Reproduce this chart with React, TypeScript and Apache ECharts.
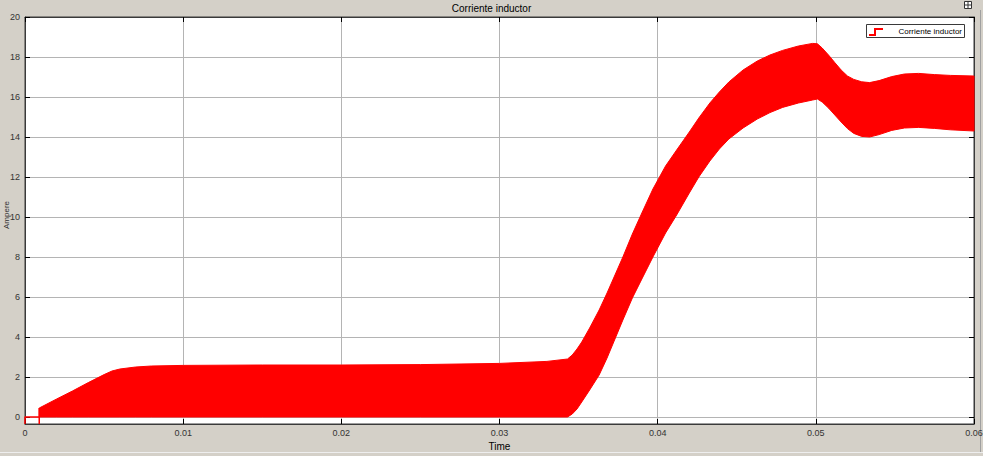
import React, { useEffect, useRef } from "react";
import * as echarts from "echarts";

// Time axis (s) and envelope of the inductor current ripple (A)
const time = [
  0.0009, 0.002, 0.003, 0.004, 0.005, 0.0055, 0.006, 0.007, 0.008, 0.01, 0.015, 0.02, 0.025, 0.03,
  0.033, 0.0343, 0.0346, 0.0349, 0.0352, 0.0357, 0.0363, 0.0368, 0.0373, 0.0378, 0.0384, 0.039,
  0.0397, 0.0405, 0.0412, 0.042, 0.0426, 0.0433, 0.0439, 0.0445, 0.0454, 0.0463, 0.0471, 0.0479,
  0.0489, 0.0498, 0.0501, 0.0504, 0.0508, 0.0512, 0.0516, 0.052, 0.0524, 0.0529, 0.0534, 0.054,
  0.0548, 0.0556, 0.0565, 0.0575, 0.0585, 0.06,
];
const upper = [
  0.45, 0.9, 1.3, 1.72, 2.12, 2.3, 2.4, 2.5, 2.55, 2.58, 2.6, 2.6, 2.62, 2.68,
  2.78, 2.9, 3.1, 3.4, 3.75, 4.45, 5.35, 6.2, 7.1, 8.0, 9.15, 10.2,
  11.4, 12.55, 13.35, 14.25, 14.95, 15.7, 16.25, 16.75, 17.35, 17.8, 18.1, 18.33,
  18.55, 18.68, 18.66, 18.45, 18.1, 17.72, 17.35, 17.05, 16.88, 16.76, 16.72, 16.82,
  17.02, 17.15, 17.18, 17.12, 17.08, 17.05,
];
const lower = [
  0, 0, 0, 0, 0, 0, 0, 0, 0, 0, 0, 0, 0, 0,
  0, 0, 0.15, 0.4, 0.75, 1.35, 2.1, 2.95, 3.9, 4.85, 5.95, 6.9,
  8.0, 9.2, 10.1, 11.2, 12.0, 12.8, 13.4, 13.9, 14.45, 14.9, 15.22, 15.48,
  15.7, 15.85, 15.9, 15.75, 15.45, 15.1, 14.75, 14.42, 14.18, 14.03, 14.0, 14.12,
  14.33, 14.45, 14.48, 14.43, 14.36, 14.3,
];
// start-up segment of the trace before switching begins
const startTime = [0, 0, 0.0009, 0.0009, 0.0009];
const startValue = [-0.35, 0, 0, -0.35, 0.45];

const yTicks = [0, 2, 4, 6, 8, 10, 12, 14, 16, 18, 20];
const xMin = 0;
const xMax = 0.06;
const xStep = 0.01;
const yMin = -0.35;
const yMax = 20;

const FONT = "'Liberation Sans', Arial, sans-serif";
const RED = "#ff0000";
const FRAME = "#3a3a3a";
const GRID = "#b4b4b4";
const BG = "#d4d0c8";

export default function App() {
  const ref = useRef<HTMLDivElement>(null);

  useEffect(() => {
    if (!ref.current) return;
    const chart = echarts.init(ref.current, null, { renderer: "svg" });

    const bandData = time.map((t, i) => [t, lower[i], upper[i]]);
    const startData = startTime.map((t, i) => [t, startValue[i]]);

    const xFmt = (v: number) => (v === 0 ? "0" : String(Number(v.toFixed(3))));

    const renderBand = (params: any, api: any) => {
      if (params.dataIndex !== 0) return null;
      const top = bandData.map((d) => api.coord([d[0], d[2]]));
      const bottom = bandData.map((d) => api.coord([d[0], d[1]])).reverse();
      return {
        type: "polygon",
        shape: { points: top.concat(bottom), smooth: 0 },
        style: { fill: RED, stroke: RED, lineWidth: 1, lineJoin: "round" },
      };
    };

    chart.setOption({
      animation: false,
      backgroundColor: BG,
      textStyle: { fontFamily: FONT },
      title: {
        text: "Corriente inductor",
        left: "center",
        top: 3,
        padding: 0,
        textStyle: { fontSize: 10, fontWeight: "normal", color: "#000", fontFamily: FONT },
      },
      grid: {
        left: 25, right: 9, top: 17, bottom: 32,
        outerBoundsMode: "none",
        containLabel: false,
        show: true, backgroundColor: "#ffffff", borderColor: FRAME, borderWidth: 1,
      },
      xAxis: [
        {
          type: "value",
          min: xMin,
          max: xMax,
          interval: xStep,
          name: "Time",
          nameLocation: "middle",
          nameGap: 17,
          nameTextStyle: { fontSize: 10, color: "#000", fontFamily: FONT },
          axisLine: { show: true, onZero: false, lineStyle: { color: FRAME, width: 1 } },
          axisTick: { show: true, inside: true, length: 5, lineStyle: { color: "#000" } },
          axisLabel: { fontSize: 9, color: "#333", margin: 4, formatter: xFmt, fontFamily: FONT },
          splitLine: { show: true, lineStyle: { color: GRID, width: 1 } },
        },
        {
          type: "value",
          position: "top",
          min: xMin,
          max: xMax,
          interval: xStep,
          axisLine: { show: true, onZero: false, lineStyle: { color: FRAME, width: 1 } },
          axisTick: { show: true, inside: true, length: 5, lineStyle: { color: "#000" } },
          axisLabel: { show: false },
          splitLine: { show: false },
        },
      ],
      yAxis: [
        {
          type: "value",
          min: yMin,
          max: yMax,
          axisLine: { show: true, onZero: false, lineStyle: { color: FRAME, width: 1 } },
          axisTick: { show: true, inside: true, length: 5, customValues: yTicks, lineStyle: { color: "#000" } },
          axisLabel: { fontSize: 9, color: "#333", margin: 5, customValues: yTicks, fontFamily: FONT },
          splitLine: { show: true, lineStyle: { color: GRID, width: 1 } },
        },
        {
          type: "value",
          position: "right",
          min: yMin,
          max: yMax,
          axisLine: { show: true, onZero: false, lineStyle: { color: FRAME, width: 1 } },
          axisTick: { show: true, inside: true, length: 5, customValues: yTicks, lineStyle: { color: "#000" } },
          axisLabel: { show: false, customValues: yTicks },
          splitLine: { show: false },
        },
      ],
      series: [
        {
          name: "Corriente inductor",
          type: "custom",
          data: bandData,
          encode: { x: 0, y: [1, 2] },
          renderItem: renderBand,
          z: 3,
        },
        {
          name: "start",
          type: "line",
          data: startData,
          showSymbol: false,
          symbol: "none",
          lineStyle: { color: RED, width: 1.5 },
          z: 4,
        },
      ],
      graphic: [
        {
          type: "text",
          x: 6,
          y: 215,
          rotation: Math.PI / 2,
          style: { text: "Ampere", fontSize: 8, fill: "#333", fontFamily: FONT, align: "center", verticalAlign: "middle" },
        },
        {
          type: "group",
          children: [
            { type: "rect", shape: { x: 866.5, y: 24.5, width: 98, height: 13 }, style: { fill: "#fff", stroke: FRAME, lineWidth: 1 } },
            { type: "polyline", shape: { points: [[869, 35], [875, 35], [875, 29], [883, 29]] }, style: { stroke: RED, lineWidth: 2, fill: "none" } },
            { type: "text", x: 962, y: 31.5, style: { text: "Corriente inductor", fontSize: 8, fill: "#000", fontFamily: FONT, align: "right", verticalAlign: "middle" } },
          ],
        },
        { type: "rect", shape: { x: 964.5, y: 1.5, width: 7, height: 7 }, style: { fill: "#fff", stroke: "#333", lineWidth: 1 } },
        { type: "line", shape: { x1: 968, y1: 2, x2: 968, y2: 8 }, style: { stroke: "#333", lineWidth: 1 } },
        { type: "line", shape: { x1: 965, y1: 5, x2: 971, y2: 5 }, style: { stroke: "#333", lineWidth: 1 } },
        { type: "line", shape: { x1: 0, y1: 452.5, x2: 983, y2: 452.5 }, style: { stroke: "#eeeeee", lineWidth: 1 } },
        { type: "line", shape: { x1: 980.5, y1: 10, x2: 980.5, y2: 452 }, style: { stroke: "#a0a0a0", lineWidth: 1 } },
      ],
    });

    return () => chart.dispose();
  }, []);

  return (
    <div
      ref={ref}
      style={{ position: "absolute", left: 0, top: 0, width: 983, height: 456 }}
    />
  );
}
